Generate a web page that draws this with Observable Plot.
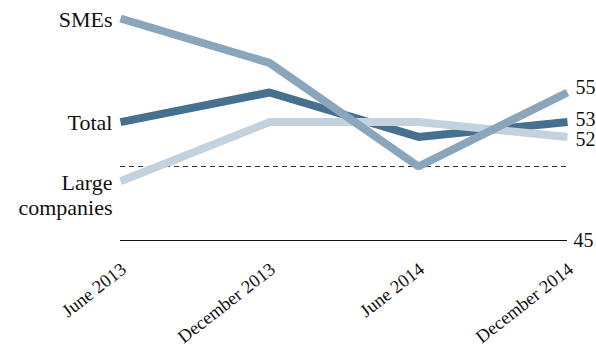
<!DOCTYPE html>
<html>
<head>
<meta charset="utf-8">
<script src="https://cdn.jsdelivr.net/npm/d3@7"></script>
<script src="https://cdn.jsdelivr.net/npm/@observablehq/plot@0.6"></script>
<style>
  html, body { margin: 0; padding: 0; background: #fff; }
  #chart svg { display: block; }
</style>
</head>
<body>
<div id="chart"></div>
<script>
// Survey periods along the x axis
const periods = ["June 2013", "December 2013", "June 2014", "December 2014"];

// Index values per group
const smes  = [60, 57, 50, 55];
const total = [53, 55, 52, 53];
const large = [49, 53, 53, 52];

// Axis floor and the dashed reference level
const floorValue = 45;
const referenceValue = 50;

const seriesNames = ["Total", "Large\ncompanies", "SMEs"];
const seriesValues = [total, large, smes];
const seriesColors = ["#45718f", "#c3d2df", "#8aa6bc"];

const rows = seriesNames.flatMap((name, i) =>
  periods.map((p, j) => ({series: name, period: p, value: seriesValues[i][j]}))
);

const font = "'Liberation Serif', 'Times New Roman', serif";
const first = periods[0];
const last = periods[periods.length - 1];

// Small vertical nudges keep the end labels apart
const endNudge = {"SMEs": -5, "Total": -3, "Large\ncompanies": 3};

const marks = [
  Plot.ruleY([referenceValue], {stroke: "#333", strokeWidth: 1, strokeDasharray: "5,4"}),
  Plot.ruleY([floorValue], {stroke: "#111", strokeWidth: 1.2}),
  ...seriesNames.map((name, i) =>
    Plot.line(rows.filter(d => d.series === name), {
      x: "period", y: "value",
      stroke: seriesColors[i], strokeWidth: 8,
      strokeLinecap: "butt", strokeLinejoin: "miter"
    })
  ),
  // Series names at the left end
  Plot.text(rows.filter(d => d.period === first && !d.series.includes("\n")), {
    x: "period", y: "value", text: "series",
    textAnchor: "end", dx: -8, dy: 1, fontSize: 22, fill: "#111"
  }),
  Plot.text(rows.filter(d => d.period === first && d.series.includes("\n")), {
    x: "period", y: "value", text: "series",
    textAnchor: "end", dx: -8, dy: 13, lineHeight: 1.14, fontSize: 22, fill: "#111"
  }),
  // Values at the right end
  ...seriesNames.map(name =>
    Plot.text(rows.filter(d => d.period === last && d.series === name), {
      x: "period", y: "value", text: d => String(d.value),
      textAnchor: "start", dx: 8, dy: endNudge[name], fontSize: 20, fill: "#111"
    })
  ),
  Plot.text([floorValue], {
    x: () => last, y: d => d, text: d => String(d),
    textAnchor: "start", dx: 6, fontSize: 20, fill: "#111"
  }),
  // Rotated period labels under the floor line
  Plot.text(periods, {
    x: d => d, y: () => floorValue, text: d => d,
    rotate: -38, textAnchor: "end", lineAnchor: "bottom",
    dx: 7, dy: 31, fontSize: 18.5, fill: "#111"
  })
];

const chart = Plot.plot({
  width: 596,
  height: 347,
  marginLeft: 120,
  marginRight: 29,
  marginTop: 18,
  marginBottom: 107,
  style: {fontFamily: font, background: "#fff", overflow: "visible"},
  x: {type: "point", domain: periods, padding: 0, axis: null},
  y: {domain: [floorValue, 60], axis: null},
  marks
});

document.getElementById("chart").appendChild(chart);
</script>
</body>
</html>
